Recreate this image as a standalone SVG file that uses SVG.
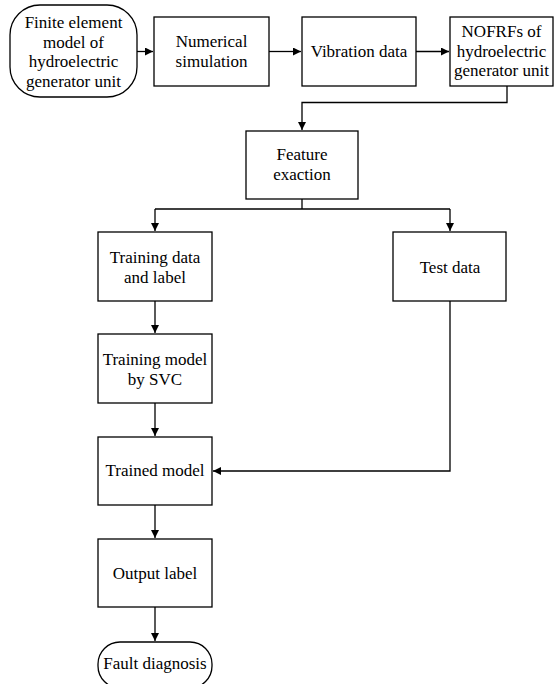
<svg xmlns="http://www.w3.org/2000/svg" width="555" height="684" viewBox="0 0 555 684">
<style>
.b{fill:#fff;stroke:#000;stroke-width:1.3}
text{font-family:'Liberation Serif','Tinos','Times New Roman','Times','Nimbus Roman','DejaVu Serif','Noto Serif',serif;font-size:17px;fill:#000;text-anchor:middle}
.c{fill:none;stroke:#000;stroke-width:1.3}
</style>
<defs>
<marker id="a" markerWidth="8" markerHeight="8" refX="8" refY="4" orient="auto" markerUnits="userSpaceOnUse">
<path d="M0,0 L8,4 L0,8 Z" fill="#000"/>
</marker>
</defs>
<rect width="555" height="684" fill="#fff"/>
<g id="connectors">
<path class="c" d="M137,51.5 H153" marker-end="url(#a)"/>
<path class="c" d="M269,51.5 H301" marker-end="url(#a)"/>
<path class="c" d="M416,51.5 H449" marker-end="url(#a)"/>
<path class="c" d="M507,86 V102.5 H302 V130" marker-end="url(#a)"/>
<path class="c" d="M302,199 V209"/>
<path class="c" d="M155,209 H450"/>
<path class="c" d="M155,209 V231" marker-end="url(#a)"/>
<path class="c" d="M450,209 V231" marker-end="url(#a)"/>
<path class="c" d="M155,301 V333" marker-end="url(#a)"/>
<path class="c" d="M155,403 V436" marker-end="url(#a)"/>
<path class="c" d="M450,301 V471 H213" marker-end="url(#a)"/>
<path class="c" d="M155,505 V538" marker-end="url(#a)"/>
<path class="c" d="M155,607 V641" marker-end="url(#a)"/>
</g>
<g id="fem">
<rect class="b" x="10" y="5" width="127" height="92" rx="30" ry="30"/>
<text x="73.5" y="28">Finite element</text>
<text x="73.5" y="47.5">model of</text>
<text x="73.5" y="67">hydroelectric</text>
<text x="73.5" y="86.5">generator unit</text>
</g>
<g id="numsim">
<rect class="b" x="154" y="17" width="115" height="69"/>
<text x="211.5" y="47">Numerical</text>
<text x="211.5" y="67">simulation</text>
</g>
<g id="vib">
<rect class="b" x="302" y="17" width="114" height="69"/>
<text x="359" y="57">Vibration data</text>
</g>
<g id="nofrf">
<rect class="b" x="450" y="17" width="103" height="69"/>
<text x="501.5" y="37">NOFRFs of</text>
<text x="501.5" y="57">hydroelectric</text>
<text x="501.5" y="76">generator unit</text>
</g>
<g id="feature">
<rect class="b" x="246" y="131" width="112" height="68"/>
<text x="302" y="160">Feature</text>
<text x="302" y="180">exaction</text>
</g>
<g id="train">
<rect class="b" x="98" y="232" width="114" height="69"/>
<text x="155" y="263">Training data</text>
<text x="155" y="283">and label</text>
</g>
<g id="test">
<rect class="b" x="393" y="232" width="113" height="69"/>
<text x="450" y="273">Test data</text>
</g>
<g id="svc">
<rect class="b" x="98" y="334" width="114" height="69"/>
<text x="155" y="365">Training model</text>
<text x="155" y="385">by SVC</text>
</g>
<g id="trained">
<rect class="b" x="98" y="437" width="114" height="68"/>
<text x="155" y="476">Trained model</text>
</g>
<g id="output">
<rect class="b" x="98" y="539" width="114" height="68"/>
<text x="155" y="579">Output label</text>
</g>
<g id="fault">
<rect class="b" x="98" y="642" width="114" height="46" rx="22" ry="22"/>
<text x="155" y="669">Fault diagnosis</text>
</g>
</svg>
